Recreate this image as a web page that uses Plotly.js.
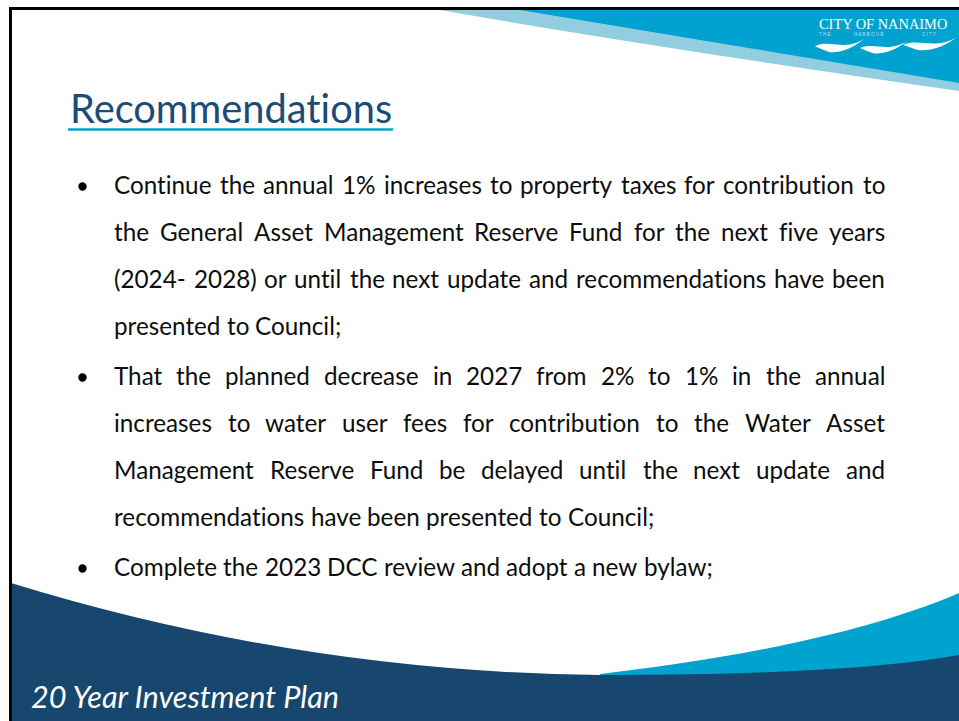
<!DOCTYPE html>
<html><head><meta charset="utf-8">
<script src="https://cdn.plot.ly/plotly-3.0.1.min.js"></script>
<style>html,body{margin:0;padding:0;background:#fff;overflow:hidden}#chart{width:959px;height:721px}svg text,svg tspan{font-variant-ligatures:none !important;font-feature-settings:"liga" 0,"clig" 0 !important}</style>
</head><body><div id="chart"></div>
<script>
// ---- content ----
const slideTitle = "Recommendations";
const bulletOneLines = [
  "Continue the annual 1% increases to property taxes for contribution to",
  "the General Asset Management Reserve Fund for the next five years",
  "(2024- 2028) or until the next update and recommendations have been",
  "presented to Council;"
];
const bulletTwoLines = [
  "That the planned decrease in 2027 from 2% to 1% in the annual",
  "increases to water user fees for contribution to the Water Asset",
  "Management Reserve Fund be delayed until the next update and",
  "recommendations have been presented to Council;"
];
const bulletThreeLines = [
  "Complete the 2023 DCC review and adopt a new bylaw;"
];
const footerText = "20 Year Investment Plan";
const logoName = "CITY OF NANAIMO";
const logoTagline = ["THE", "HARBOUR", "CITY"];

// ---- styling / layout ----
const W = 959, H = 721;
const NAVY = "#17466F", BLUE = "#00A3CF", PALE = "#93CEE0", TITLE = "#1B4B76";
const BODY_FONT = "Lato", SERIF = "Liberation Serif", SMALL_FONT = "Liberation Sans";
const METRICS = {"Lato": [0.987, 0.213], "Liberation Sans": [0.905, 0.212], "Liberation Serif": [0.891, 0.216]};

const ctx = document.createElement("canvas").getContext("2d");
function measure(text, size, family, style, weight) {
  ctx.font = (style || "normal") + " " + (weight || "normal") + " " + size + "px '" + family + "'";
  return ctx.measureText(text).width;
}
function fitSize(text, width, family, style, weight) {
  return 100 * width / measure(text, 100, family, style, weight);
}
function midFromBaseline(baseline, size, family) {
  const m = METRICS[family];
  return baseline - (m[0] - m[1]) / 2 * size;
}

const annotations = [];
const shapes = [];
function addText(text, x, baseline, size, family, color, opts) {
  opts = opts || {};
  annotations.push({
    x: x, y: midFromBaseline(baseline, size, family), xref: "x", yref: "y",
    text: '<span style="font-variant-ligatures:none">' + text + '</span>',
    showarrow: false, xanchor: opts.xanchor || "left", yanchor: "middle",
    borderpad: 0,
    font: {family: family, size: size, color: color, style: opts.style || "normal", weight: opts.weight || "normal"}
  });
}

// body text, justified like the slide
const TEXT_LEFT = 113, TEXT_RIGHT = 884, BULLET_X = 82.5, BULLET_R = 4.2;
const bodySize = fitSize(bulletThreeLines[0], 599, BODY_FONT);
const spaceW = measure(" ", bodySize, BODY_FONT);
const paragraphs = [bulletOneLines, bulletTwoLines, bulletThreeLines];
let baseline = 194;
paragraphs.forEach(function (lines) {
  const cy = baseline - 7.5;
  shapes.push({type: "circle", x0: BULLET_X - BULLET_R, x1: BULLET_X + BULLET_R, y0: cy - BULLET_R, y1: cy + BULLET_R,
    fillcolor: "#000", line: {width: 0}});
  lines.forEach(function (line, li) {
    const words = line.split(" ");
    const widths = words.map(w => measure(w, bodySize, BODY_FONT));
    const total = widths.reduce((a, b) => a + b, 0);
    const justify = li < lines.length - 1 && words.length > 1;
    const gap = justify ? (TEXT_RIGHT - TEXT_LEFT - total) / (words.length - 1) : spaceW;
    let x = TEXT_LEFT;
    words.forEach(function (w, wi) {
      addText(w, x, baseline, bodySize, BODY_FONT, "#0D0D0D");
      x += widths[wi] + gap;
    });
    baseline += 47;
  });
  baseline += 3;
});

// title
const titleSize = fitSize(slideTitle, 323, BODY_FONT);
addText(slideTitle, 69, 122.5, titleSize, BODY_FONT, TITLE);

// footer
const footSize = fitSize(footerText, 310, BODY_FONT, "italic");
addText(footerText, 30, 708, footSize, BODY_FONT, "#FFFFFF", {style: "italic"});

// logo
const logoSize = fitSize(logoName, 129, SERIF);
addText(logoName, 818, 29, logoSize, SERIF, "#FFFFFF");
const tagX = [818, 853, 921];
logoTagline.forEach(function (w, i) {
  addText(w.split("").join(" "), tagX[i], 36, 4.5, SMALL_FONT, "rgba(255,255,255,0.75)");
});

function wave(x0, y0, w, h) {
  const p = (a, b) => (x0 + a * w).toFixed(1) + "," + (y0 + b * h).toFixed(1);
  return "M" + p(0, 0.55) + " C" + p(0.3, 0.05) + " " + p(0.6, 0.95) + " " + p(1, 0) +
    " C" + p(0.8, 0.6) + " " + p(0.55, 1) + " " + p(0.3, 0.95) +
    " C" + p(0.2, 0.85) + " " + p(0.1, 0.7) + " " + p(0, 0.55) + " Z";
}

shapes.push(
  // top decorative bands
  {type: "path", path: "M440,10 Q640,45 959,91 L959,10 Z", fillcolor: PALE, line: {width: 0}, layer: "below"},
  {type: "path", path: "M520,10 Q700,40 959,83 L959,10 Z", fillcolor: BLUE, line: {width: 0}, layer: "below"},
  // bottom bands
  {type: "path", path: "M600,674 C700,662 850,640 959,593 L959,721 L600,721 Z", fillcolor: BLUE, line: {width: 0}, layer: "below"},
  {type: "path", path: "M11,583 Q300,672 600,675 Q850,675 959,655 L959,721 L11,721 Z", fillcolor: NAVY, line: {width: 0}, layer: "below"},
  // logo waves
  {type: "path", path: wave(815, 38, 50, 15), fillcolor: "#FFFFFF", line: {width: 0}, layer: "below"},
  {type: "path", path: wave(860, 41, 47, 13), fillcolor: "#FFFFFF", line: {width: 0}, layer: "below"},
  {type: "path", path: wave(903, 37, 54, 14), fillcolor: "#FFFFFF", line: {width: 0}, layer: "below"},
  // title underline
  {type: "line", x0: 68, x1: 393, y0: 129.5, y1: 129.5, line: {color: BLUE, width: 2.5}},
  // slide border
  {type: "line", x0: 9, x1: 959, y0: 8.5, y1: 8.5, line: {color: "#000", width: 3}},
  {type: "line", x0: 10.5, x1: 10.5, y0: 7, y1: 721, line: {color: "#000", width: 3}}
);

const layout = {
  width: W, height: H, autosize: false,
  margin: {l: 0, r: 0, t: 0, b: 0, pad: 0},
  paper_bgcolor: "#FFFFFF", plot_bgcolor: "#FFFFFF",
  showlegend: false,
  xaxis: {range: [0, W], visible: false, fixedrange: true},
  yaxis: {range: [H, 0], visible: false, fixedrange: true},
  shapes: shapes,
  annotations: annotations
};
Plotly.newPlot("chart", [], layout, {staticPlot: true, displayModeBar: false});
</script>
</body></html>
